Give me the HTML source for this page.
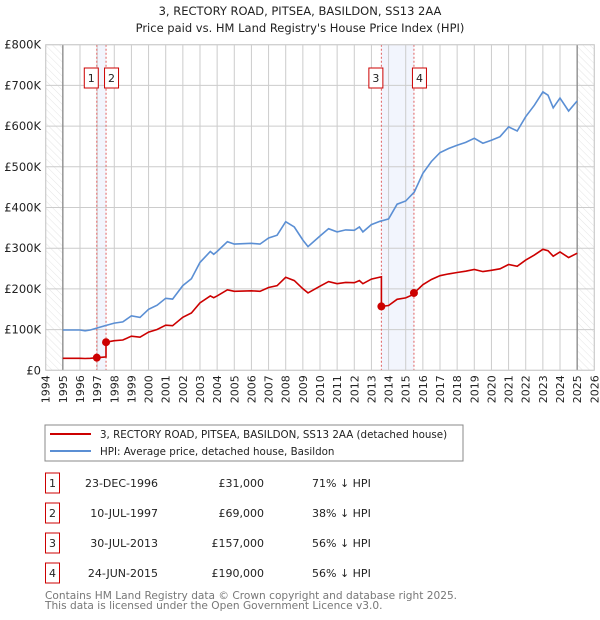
<!DOCTYPE html>
<html><head><meta charset="utf-8"><style>
body{margin:0;background:#fff;}
svg{display:block;font-family:"DejaVu Sans","Liberation Sans",sans-serif;}
</style></head><body>
<svg id="chart" width="600" height="620" viewBox="0 0 600 620">
<defs><pattern id="hatch" width="5" height="5" patternUnits="userSpaceOnUse" patternTransform="rotate(-45)"><line x1="0" y1="0" x2="0" y2="5" stroke="#ddd" stroke-width="0.8"/></pattern></defs>
<text x="300" y="15" text-anchor="middle" font-size="11.5" fill="#222">3, RECTORY ROAD, PITSEA, BASILDON, SS13 2AA</text>
<text x="300" y="32" text-anchor="middle" font-size="11.5" fill="#222">Price paid vs. HM Land Registry's House Price Index (HPI)</text>
<g id="plot"></g>
<g id="legend">
<rect x="45" y="425" width="418" height="36" fill="#fff" stroke="#888"/>
<line x1="50" y1="434" x2="91" y2="434" stroke="#cc0000" stroke-width="2"/>
<text x="100" y="438" font-size="10.3" fill="#222">3, RECTORY ROAD, PITSEA, BASILDON, SS13 2AA (detached house)</text>
<line x1="50" y1="451" x2="91" y2="451" stroke="#5b8fd4" stroke-width="2"/>
<text x="100" y="455" font-size="10.3" fill="#222">HPI: Average price, detached house, Basildon</text>
</g>
<g id="table" font-size="11" fill="#222"></g>
<text x="45" y="599" font-size="10.6" fill="#777">Contains HM Land Registry data © Crown copyright and database right 2025.</text>
<text x="45" y="609" font-size="10.6" fill="#777">This data is licensed under the Open Government Licence v3.0.</text>
</svg>
<script>
const hpiYears=[1995,1995.5,1996,1996.3,1996.6,1997,1997.5,1998,1998.5,1999,1999.5,2000,2000.5,2001,2001.4,2002,2002.5,2003,2003.6,2003.8,2004,2004.6,2005,2006,2006.5,2007,2007.5,2008,2008.5,2009,2009.3,2010,2010.5,2011,2011.5,2012,2012.3,2012.5,2013,2013.5,2014,2014.5,2015,2015.5,2016,2016.5,2017,2017.5,2018,2018.5,2019,2019.5,2020,2020.5,2021,2021.5,2022,2022.5,2023,2023.3,2023.6,2024,2024.5,2025];
const hpiValues=[99,99,99,97,99,104,110,116,119,134,130,150,160,177,175,208,225,265,292,285,292,316,310,312,310,325,332,365,352,320,304,330,348,340,345,344,352,340,358,366,372,408,416,438,484,513,535,545,553,560,570,558,565,574,598,588,623,651,684,676,645,669,637,662];
const saleLabels=["1","2","3","4"];
const saleDates=[1996.98,1997.52,2013.58,2015.48];
const saleDateText=["23-DEC-1996","10-JUL-1997","30-JUL-2013","24-JUN-2015"];
const salePrices=[31,69,157,190];
const salePriceText=["£31,000","£69,000","£157,000","£190,000"];
const saleHpiText=["71% ↓ HPI","38% ↓ HPI","56% ↓ HPI","56% ↓ HPI"];
const yTicks=[0,100,200,300,400,500,600,700,800];
const yTickLabels=["£0","£100K","£200K","£300K","£400K","£500K","£600K","£700K","£800K"];
const xTicks=[1994,1995,1996,1997,1998,1999,2000,2001,2002,2003,2004,2005,2006,2007,2008,2009,2010,2011,2012,2013,2014,2015,2016,2017,2018,2019,2020,2021,2022,2023,2024,2025,2026];

const X0=45.7,X1=594.3,Y0=370.3,Y1=44.7;
const xs=t=>X0+(t-1994)/32*(X1-X0);
const ys=v=>Y0-v/800*(Y0-Y1);
const NS="http://www.w3.org/2000/svg";
function mk(tag,attrs,parent,txt){const e=document.createElementNS(NS,tag);for(const k in attrs)e.setAttribute(k,attrs[k]);if(txt!==undefined)e.textContent=txt;parent.appendChild(e);return e;}
function hpiAt(t){if(t<=hpiYears[0])return hpiValues[0];for(let i=1;i<hpiYears.length;i++){if(t<=hpiYears[i]){const f=(t-hpiYears[i-1])/(hpiYears[i]-hpiYears[i-1]);return hpiValues[i-1]+f*(hpiValues[i]-hpiValues[i-1]);}}return hpiValues[hpiValues.length-1];}
const plot=document.getElementById('plot');
let e;
e=mk('rect',{x:X0,y:Y1,width:X1-X0,height:Y0-Y1,fill:'#fff'},plot);


e=mk('rect',{x:X0,y:Y1,width:xs(1995)-X0,height:Y0-Y1,fill:'url(#hatch)'},plot);


e=mk('rect',{x:xs(2025),y:Y1,width:X1-xs(2025),height:Y0-Y1,fill:'url(#hatch)'},plot);


for(let i=0;i<2;i++){
 e=mk('rect',{x:xs(saleDates[i*2]),y:Y1,width:xs(saleDates[i*2+1])-xs(saleDates[i*2]),height:Y0-Y1,fill:'#f2f5fd'},plot);
 
 
}
xTicks.forEach(t=>{
 e=mk('line',{x1:xs(t),x2:xs(t),y1:Y1,y2:Y0,stroke:'#ccc','stroke-width':1},plot);
 
 
 e=mk('text',{x:0,y:0,transform:`translate(${xs(t)+4},${Y0+5}) rotate(-90)`,'text-anchor':'end','font-size':11,fill:'#222'},plot,String(t));
 
 
});
yTicks.forEach((v,i)=>{
 e=mk('line',{x1:X0,x2:X1,y1:ys(v),y2:ys(v),stroke:'#ccc','stroke-width':1},plot);
 
 
 e=mk('text',{x:41,y:ys(v)+4,'text-anchor':'end','font-size':11.5,fill:'#222'},plot,yTickLabels[i]);
 
 
});
[1995,2025].forEach(t=>{
 e=mk('line',{x1:xs(t),x2:xs(t),y1:Y1,y2:Y0,stroke:'#888','stroke-width':1.3},plot);
 
 
});
saleDates.forEach((d,i)=>{
 e=mk('line',{x1:xs(d),x2:xs(d),y1:Y1,y2:Y0,stroke:'#e06060','stroke-width':1,'stroke-dasharray':'2,2'},plot);
 
 
});
let pts=hpiYears.map((t,i)=>xs(t).toFixed(1)+','+ys(hpiValues[i]).toFixed(1)).join(' ');
e=mk('polyline',{points:pts,fill:'none',stroke:'#5b8fd4','stroke-width':1.6},plot);


const grid=[...new Set([...hpiYears,...saleDates])].sort((a,b)=>a-b);
const rp=[];
grid.forEach(t=>{
 let k=0;for(let j=0;j<saleDates.length;j++)if(saleDates[j]<=t)k=j;
 if(saleDates.includes(t)&&saleDates.indexOf(t)>0){const j=saleDates.indexOf(t);const jp=j-1;rp.push([t,hpiAt(t)*salePrices[jp]/hpiAt(saleDates[jp])]);}
 rp.push([t,hpiAt(t)*salePrices[k]/hpiAt(saleDates[k])]);
});
pts=rp.map(p=>xs(p[0]).toFixed(1)+','+ys(p[1]).toFixed(1)).join(' ');
e=mk('polyline',{points:pts,fill:'none',stroke:'#cc0000','stroke-width':1.6},plot);


saleDates.forEach((d,i)=>{
 e=mk('circle',{cx:xs(d),cy:ys(salePrices[i]),r:4,fill:'#cc0000'},plot);
 
 
 const lx=[xs(d)-5.5,xs(d)+5.5,xs(d)-5.5,xs(d)+5.5][i];
 e=mk('rect',{x:lx-7,y:68,width:14,height:20,fill:'#fff',stroke:'#cc0000'},plot);
 
 
 e=mk('text',{x:lx,y:82,'text-anchor':'middle','font-size':11,fill:'#222'},plot,saleLabels[i]);
 
 
});
e=mk('rect',{x:X0,y:Y1,width:X1-X0,height:Y0-Y1,fill:'none',stroke:'#ccc'},plot);


const tb=document.getElementById('table');
saleDates.forEach((d,i)=>{
 const cy=483+i*30;
 e=mk('rect',{x:45.5,y:cy-10,width:14,height:20,fill:'#fff',stroke:'#cc0000'},tb);
 
 
 e=mk('text',{x:52.5,y:cy+4,'text-anchor':'middle'},tb,saleLabels[i]);
 
 
 e=mk('text',{x:158,y:cy+4,'text-anchor':'end'},tb,saleDateText[i]);
 
 
 e=mk('text',{x:264,y:cy+4,'text-anchor':'end'},tb,salePriceText[i]);
 
 
 e=mk('text',{x:312,y:cy+4},tb,saleHpiText[i]);
 
 
});
</script>
</body></html>
